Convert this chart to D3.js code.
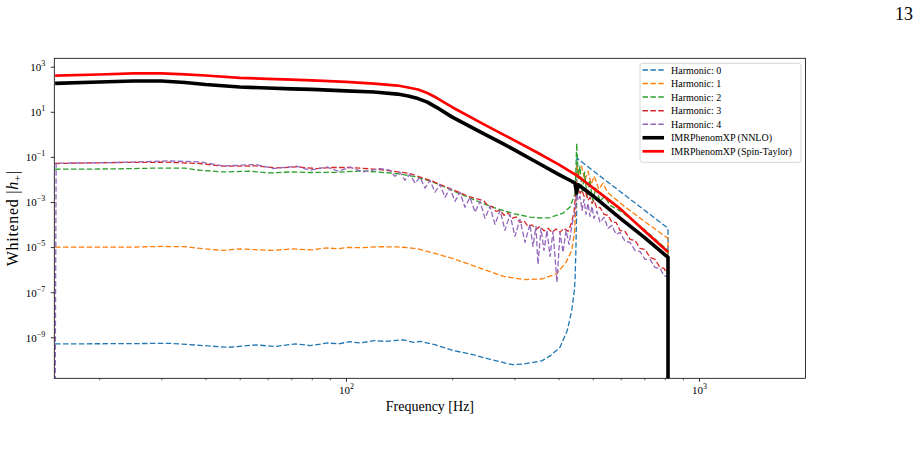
<!DOCTYPE html>
<html>
<head>
<meta charset="utf-8">
<script src="https://cdn.jsdelivr.net/npm/d3@7"></script>
<style>
body { margin: 0; background: #fff; }
text { font-family: "Liberation Serif", "DejaVu Serif", serif; fill: #000; }
</style>
</head>
<body>
<svg id="chart"></svg>
<script>
// values: [frequency Hz, whitened |h+|]
var harmonic0 = [[15,5.1e-10],[22,5.2e-10],[31.9,5.4e-10],[46.3,3.6e-10],[55.8,4.6e-10],[62.6,3.9e-10],[72.1,5.1e-10],[79.1,4.3e-10],[88.9,5.6e-10],[95.3,5.1e-10],[102.2,6.4e-10],[109.6,5.6e-10],[120.3,7.1e-10],[129,6.6e-10],[145,7.7e-10],[155.4,6.0e-10],[162.9,6.6e-10],[178.7,4.7e-10],[200.8,2.6e-10],[225.7,1.8e-10],[253.5,1.1e-10],[284.9,7.0e-11],[297.2,6.1e-11],[320,6.6e-11],[338.7,7.7e-11],[359.6,9.2e-11],[378.4,1.5e-10],[394.8,2.6e-10],[403.9,3.6e-10],[423.4,2.0e-9],[436,1.5e-8],[443.5,1.2e-7],[445.5,3.3e-7],[448,7e-6],[450,3.2e-4],[451,0.088],[500,0.025],[600,2.8e-3],[700,4.4e-4],[817,6.8e-5],[817,1e-12]];

var harmonic1 = [[15,1.0e-5],[18,1.0e-5],[25,1.0e-5],[30,1.07e-5],[35,1.04e-5],[40,8.3e-6],[45,7.1e-6],[50,8.3e-6],[55,7.7e-6],[62,7.1e-6],[70,8.3e-6],[80,7.5e-6],[88,9.2e-6],[95,8.5e-6],[102,9.7e-6],[110,9.4e-6],[125,1.04e-5],[140,1.02e-5],[150,9.4e-6],[160,8.3e-6],[180,5.1e-6],[200,3.15e-6],[220,1.89e-6],[250,9.2e-7],[280,5.0e-7],[320,3.6e-7],[360,3.9e-7],[395,6.6e-7],[420,2.1e-6],[436,7.1e-6],[444,4.5e-5],[448,6.4e-4],[451,0.043],[455,0.0154],[465,0.0386],[475,0.0092],[485,0.0231],[495,0.0061],[505,0.0139],[520,0.0037],[535,0.0068],[550,0.0027],[600,8.7e-4],[700,1.39e-4],[817,2.44e-5],[817,1e-12]];

var harmonic2 = [[15,0.0284],[22.4,0.0293],[28,0.0315],[35,0.0315],[38.6,0.0256],[44.9,0.0215],[53.5,0.0231],[60.9,0.0195],[69.4,0.0215],[79.1,0.0203],[94.1,0.0209],[111.9,0.0239],[139.2,0.0183],[158.6,0.0129],[180.7,0.0066],[214.9,0.00199],[240,9.7e-4],[267.3,5.1e-4],[300,3.0e-4],[332,2.15e-4],[355,1.95e-4],[378.4,2.03e-4],[412.6,3.24e-4],[431,6.0e-4],[445.5,2.36e-3],[448,0.0256],[450.4,0.394],[455,0.0113],[460,0.0386],[467,0.0027],[474,0.0209],[482,0.00162],[490,0.0092],[500,0.00119],[510,0.0041],[525,0.00107],[540,0.00179],[560,7.1e-4],[600,3.86e-4],[700,6.1e-5],[817,7.1e-6],[817,1e-12]];

var harmonic3 = [[15,0.0509],[22.4,0.0564],[31,0.0581],[38.6,0.0509],[44.9,0.0386],[55.8,0.0398],[63.6,0.0324],[72.5,0.036],[82.6,0.0305],[90.1,0.0338],[102.6,0.0338],[124.8,0.0275],[151.8,0.0183],[173,0.0092],[197.1,0.00394],[224.5,0.00167],[246,1.13e-3],[252.5,6.4e-4],[259.2,6.4e-4],[266,3.86e-4],[273.2,4.28e-4],[280.4,2.56e-4],[287.7,3.31e-4],[295.3,1.88e-4],[303.1,2.2e-4],[311.1,1.25e-4],[319.3,1.46e-4],[327.8,8.3e-5],[336.4,9.7e-5],[345.3,6.1e-5],[354.5,8.3e-5],[363.8,5.25e-5],[373.5,6.8e-5],[383.3,4.5e-5],[393.5,6.4e-5],[403.9,4.5e-5],[414.6,6.8e-5],[425.6,5.0e-5],[434,1.02e-4],[442.6,3.48e-4],[450.2,0.0075],[454.3,0.0054],[460.3,0.00244],[466.4,0.0033],[472.4,0.00179],[478.6,0.00244],[484.9,0.00119],[491.2,0.00162],[497.7,8.7e-4],[504.2,0.00119],[514,5.2e-4],[524.3,5.8e-4],[538.2,2.84e-4],[552.4,2.56e-4],[567,1.25e-4],[582.1,1.25e-4],[597.4,5.5e-5],[617.3,5.0e-5],[637.6,2.2e-5],[658.9,1.98e-5],[680.8,8.7e-6],[703.1,7.9e-6],[726.5,3.5e-6],[750.6,2.84e-6],[775.3,1.25e-6],[795.8,1.13e-6],[816.9,6.1e-7],[816.9,1e-12]];

var harmonic4 = [[15,1e-12],[15.1,0.0525],[22.4,0.0564],[31,0.0664],[38.6,0.060],[44.9,0.0398],[55.8,0.0459],[62.2,0.0305],[72.5,0.0386],[79.1,0.0256],[88.2,0.036],[95.1,0.0231],[102.6,0.0348],[111.9,0.0215],[124.8,0.0305],[133.2,0.0256],[137.7,0.0139],[142.2,0.0209],[146.9,0.0092],[151.8,0.0170],[156.9,0.0068],[162,0.0125],[167.4,0.0041],[173,0.0092],[178.7,0.0027],[184.6,0.0061],[190.8,0.00162],[197.1,0.0041],[203.6,0.00107],[210.3,0.0027],[217.3,5.8e-4],[224.5,0.00162],[232,3.48e-4],[239.7,0.00107],[247.6,1.88e-4],[255.8,6.4e-4],[264.3,1.02e-4],[273.2,4.28e-4],[282.1,5.5e-5],[291.4,2.84e-4],[301.1,2.99e-5],[311.1,1.70e-4],[321.5,1.62e-5],[332,1.02e-4],[338.7,1.07e-5],[345.3,8.3e-5],[349.9,1.70e-6],[356.8,6.8e-5],[363.8,7.1e-6],[371,5.5e-5],[378.4,3.86e-6],[385.9,5.0e-5],[396,2.70e-7],[403.9,4.5e-5],[411.9,5.8e-6],[420.1,5.5e-5],[428.4,1.32e-5],[436.9,1.02e-4],[445.5,3.48e-4],[450.2,0.0033],[454.3,0.00119],[460.3,0.00179],[466.4,4.28e-4],[472.4,0.00132],[478.6,2.84e-4],[484.9,8.7e-4],[491.2,2.31e-4],[497.7,6.4e-4],[504.2,1.88e-4],[514,3.86e-4],[524.3,1.25e-4],[538.2,2.09e-4],[552.4,6.8e-5],[567,9.2e-5],[582.1,3.67e-5],[597.4,4.5e-5],[617.3,1.79e-5],[637.6,1.62e-5],[658.9,7.1e-6],[680.8,6.4e-6],[703.1,2.84e-6],[726.5,2.84e-6],[750.6,1.25e-6],[775.3,1.13e-6],[795.8,5.5e-7],[816.9,4.5e-7],[816.9,1e-12]];

var nnlo = [[15,183],[20,209],[25,231],[30,231],[35,199],[40,162],[50,125],[60,113],[70,104],[80,99],[100,85],[120,75],[140,61],[150,50],[160,38.6],[170,27],[180,16.2],[200,5.8],[240,1.29],[280,0.367],[300,0.205],[350,0.0536],[400,0.0169],[436,0.0083],[445,0.0071],[450,0.00244],[455,0.0058],[500,0.0019],[600,1.83e-4],[700,2.7e-5],[817,3.5e-6],[817,1e-12]];

var spinTaylor = [[15,398],[20,450],[25,509],[30,509],[35,460],[40,406],[50,321],[60,290],[70,267],[80,249],[100,213],[120,179],[140,146],[150,119],[160,97],[170,68],[180,42.8],[200,16],[240,3.4],[280,0.95],[300,0.54],[350,0.149],[400,0.0469],[450,0.0153],[500,0.00437],[600,4.83e-4],[700,5.36e-5],[817,6.0e-6]];

var seriesNames = ["Harmonic: 0", "Harmonic: 1", "Harmonic: 2", "Harmonic: 3", "Harmonic: 4",
                   "IMRPhenomXP (NNLO)", "IMRPhenomXP (Spin-Taylor)"];
var freqTicksMajor = [100, 1000];
var freqTicksMinor = [20, 30, 40, 50, 60, 70, 80, 90, 200, 300, 400, 500, 600, 700, 800, 900];
var ampTicks = [1e3, 1e1, 1e-1, 1e-3, 1e-5, 1e-7, 1e-9];

var series = [harmonic0, harmonic1, harmonic2, harmonic3, harmonic4, nnlo, spinTaylor];
var colors = ["#1f77b4", "#ff7f0e", "#2ca02c", "#d62728", "#9467bd", "#000000", "#ff0000"];
var widths = [1.3, 1.3, 1.3, 1.3, 1.3, 3.6, 2.7];

var plotL = 54.3, plotR = 805.5, plotT = 58.3, plotB = 378.3;

var svg = d3.select("#chart")
            .attr("width", 920)
            .attr("height", 449)
            .style("background-color", "#ffffff");

var x = d3.scaleLog().domain([14.92, 2003]).range([plotL, plotR]);
var y = d3.scaleLog().domain([1.52e-11, 2357]).range([plotB, plotT]);

svg.append("clipPath").attr("id", "plot-clip")
    .append("rect")
    .attr("x", plotL).attr("y", plotT)
    .attr("width", plotR - plotL).attr("height", plotB - plotT);

var line = d3.line()
    .x(function(d){ return x(d[0]); })
    .y(function(d){ return y(d[1]); });

var plot = svg.append("g").attr("clip-path", "url(#plot-clip)");

series.forEach(function(data, i){
    plot.append("path")
        .datum(data)
        .attr("d", line)
        .attr("fill", "none")
        .attr("stroke", colors[i])
        .attr("stroke-width", widths[i])
        .attr("stroke-dasharray", i < 5 ? "5.5,2.4" : null)
        .attr("stroke-linejoin", "round");
});

function powLabel(t, v){
    var e = Math.round(Math.log10(v));
    t.text("10");
    t.append("tspan")
        .attr("dy", -5)
        .attr("font-size", "8px")
        .text(e < 0 ? "\u2212" + (-e) : e);
}

// x axis
var xMinor = svg.append("g").attr("transform", "translate(0," + plotB + ")")
    .call(d3.axisBottom(x).tickValues(freqTicksMinor).tickSize(2).tickFormat(""));
xMinor.select(".domain").remove();
xMinor.selectAll("line").attr("stroke-width", 0.6);

var xMajor = svg.append("g").attr("transform", "translate(0," + plotB + ")")
    .call(d3.axisBottom(x).tickValues(freqTicksMajor).tickSize(3.5).tickFormat(""));
xMajor.select(".domain").remove();
xMajor.attr("font-family", null).attr("font-size", "11px");
xMajor.selectAll("line").attr("stroke-width", 0.8);
xMajor.selectAll(".tick text")
    .attr("y", 16).attr("dy", null)
    .each(function(d){ powLabel(d3.select(this), d); });

// y axis
var yAxis = svg.append("g").attr("transform", "translate(" + plotL + ",0)")
    .call(d3.axisLeft(y).tickValues(ampTicks).tickSize(3.5).tickPadding(5.5).tickFormat(""));
yAxis.select(".domain").remove();
yAxis.attr("font-family", null).attr("font-size", "11px");
yAxis.selectAll("line").attr("stroke-width", 0.8);
yAxis.selectAll(".tick text")
    .attr("dy", null).attr("y", 3.8)
    .each(function(d){ powLabel(d3.select(this), d); });

// frame
svg.append("rect")
    .attr("x", plotL).attr("y", plotT)
    .attr("width", plotR - plotL).attr("height", plotB - plotT)
    .attr("fill", "none")
    .attr("stroke", "#000")
    .attr("stroke-width", 0.8);

svg.append("text")
    .attr("x", (plotL + plotR) / 2)
    .attr("y", 411)
    .attr("text-anchor", "middle")
    .style("font-size", "14px")
    .text("Frequency [Hz]");

var ylab = svg.append("text")
    .attr("transform", "translate(18," + ((plotT + plotB) / 2) + ") rotate(-90)")
    .attr("text-anchor", "middle")
    .style("font-size", "16px")
    .style("letter-spacing", "0.7px");
ylab.append("tspan").text("Whitened |");
ylab.append("tspan").style("font-style", "italic").text("h");
ylab.append("tspan").attr("dy", 3).style("font-size", "11px").text("+");
ylab.append("tspan").attr("dy", -3).text("|");

svg.append("text")
    .attr("x", 904)
    .attr("y", 19.5)
    .attr("text-anchor", "middle")
    .style("font-size", "18px")
    .text("13");

// legend
var legend = svg.append("g");
legend.append("rect")
    .attr("x", 640).attr("y", 63.3)
    .attr("width", 161).attr("height", 99)
    .attr("rx", 2.5)
    .attr("fill", "#ffffff").attr("fill-opacity", 0.8)
    .attr("stroke", "#cccccc").attr("stroke-width", 0.8);

var items = legend.selectAll("g.item")
    .data(seriesNames)
    .enter()
    .append("g")
    .attr("class", "item")
    .attr("transform", function(d, i){ return "translate(0," + (70 + i * 13.55) + ")"; });

items.append("line")
    .attr("x1", 642.5).attr("x2", 664)
    .attr("y1", 0).attr("y2", 0)
    .attr("stroke", function(d, i){ return colors[i]; })
    .attr("stroke-width", function(d, i){ return i < 5 ? 1.5 : widths[i]; })
    .attr("stroke-dasharray", function(d, i){ return i < 5 ? "5.5,2.4" : null; });

items.append("text")
    .attr("x", 671)
    .attr("y", 3.5)
    .style("font-size", "10px")
    .text(function(d){ return d; });
</script>
</body>
</html>
